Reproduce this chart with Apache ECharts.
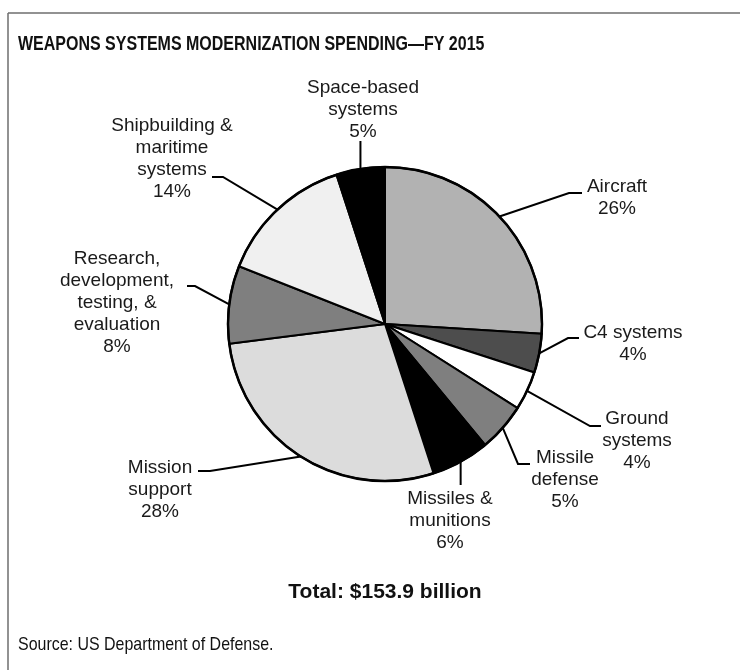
<!DOCTYPE html>
<html>
<head>
<meta charset="utf-8">
<title>Weapons Systems Modernization Spending — FY 2015</title>
<script src="https://cdn.jsdelivr.net/npm/echarts@6/dist/echarts.min.js"></script>
<style>
  html, body { margin: 0; padding: 0; background: #ffffff; }
  #chart { width: 740px; height: 670px; }
</style>
</head>
<body>
<div id="chart"></div>
<script>
// Spending categories, clockwise from 12 o'clock
const categories = [
  'Aircraft',
  'C4 systems',
  'Ground\nsystems',
  'Missile\ndefense',
  'Missiles &\nmunitions',
  'Mission\nsupport',
  'Research,\ndevelopment,\ntesting, &\nevaluation',
  'Shipbuilding &\nmaritime\nsystems',
  'Space-based\nsystems'
];

// Share of total modernization spending, percent
const shares = [26, 4, 4, 5, 6, 28, 8, 14, 5];

// Greyscale fill for each slice
const fills = ['#b2b2b2', '#4d4d4d', '#ffffff', '#7f7f7f', '#000000',
               '#dcdcdc', '#7f7f7f', '#f0f0f0', '#000000'];

const titleText = 'WEAPONS SYSTEMS MODERNIZATION SPENDING\u2014FY 2015';
const totalText = 'Total: $153.9 billion';
const sourceText = 'Source: US Department of Defense.';

const FONT = '"Liberation Sans", Arial, Helvetica, sans-serif';
const CENTER = [385, 324];
const RADIUS = 157;

// Label placement: text block centre, then leader elbow / end points.
// 'h' leaders run out to an elbow then horizontally to the text;
// 'v' leaders run straight up or down from the rim.
const labelPlacement = [
  { x: 617, y: 198, kind: 'h', elbow: [569, 193], end: [582, 193] },
  { x: 633, y: 344, kind: 'h', elbow: [568, 338], end: [579, 338] },
  { x: 637, y: 441, kind: 'h', elbow: [590, 426], end: [601, 426] },
  { x: 565, y: 480, kind: 'h', elbow: [518, 464], end: [530, 464] },
  { x: 450, y: 521, kind: 'v', endY: 485 },
  { x: 160, y: 490, kind: 'h', elbow: [210, 471], end: [198, 471] },
  { x: 117, y: 303, kind: 'h', elbow: [195, 286], end: [187, 286] },
  { x: 172, y: 159, kind: 'h', elbow: [223, 177], end: [212, 177] },
  { x: 363, y: 110, kind: 'v', endY: 141 }
];

// Rim point at the middle angle of slice i (clockwise from top)
function rimPoint(i) {
  const total = shares.reduce((a, b) => a + b, 0);
  let before = 0;
  for (let k = 0; k < i; k++) before += shares[k];
  const mid = (before + shares[i] / 2) / total * Math.PI * 2;
  return [CENTER[0] + RADIUS * Math.sin(mid), CENTER[1] - RADIUS * Math.cos(mid)];
}

const pieData = categories.map((name, i) => ({
  name: name,
  value: shares[i],
  itemStyle: { color: fills[i] }
}));

const chart = echarts.init(document.getElementById('chart'), null, { renderer: 'canvas' });

chart.setOption({
  backgroundColor: '#ffffff',
  animation: false,
  graphic: [
    { type: 'line', shape: { x1: 8, y1: 13, x2: 740, y2: 13 },
      style: { stroke: '#6e6e6e', lineWidth: 1.5 } },
    { type: 'line', shape: { x1: 8, y1: 13, x2: 8, y2: 670 },
      style: { stroke: '#6e6e6e', lineWidth: 1.5 } },
    // condensed bold heading
    { type: 'text', x: 18, y: 44, scaleX: 0.8,
      style: { text: titleText, x: 0, y: 0, font: 'bold 20px ' + FONT,
               fill: '#111111', verticalAlign: 'middle', align: 'left' } },
    { type: 'text', x: 385, y: 592,
      style: { text: totalText, x: 0, y: 0, font: 'bold 21px ' + FONT,
               fill: '#111111', verticalAlign: 'middle', align: 'center' } },
    { type: 'text', x: 18, y: 645, scaleX: 0.84,
      style: { text: sourceText, x: 0, y: 0, font: '19px ' + FONT,
               fill: '#111111', verticalAlign: 'middle', align: 'left' } }
  ],
  series: [
    {
      type: 'pie',
      center: CENTER,
      radius: RADIUS,
      startAngle: 90,
      clockwise: true,
      avoidLabelOverlap: false,
      itemStyle: { borderColor: '#000000', borderWidth: 2 },
      label: {
        show: true,
        position: 'outside',
        formatter: p => p.name + '\n' + p.value + '%',
        fontFamily: FONT,
        fontSize: 19,
        lineHeight: 22,
        color: '#1a1a1a',
        align: 'center'
      },
      labelLine: {
        show: true,
        length: 10,
        length2: 10,
        lineStyle: { color: '#000000', width: 2 }
      },
      labelLayout: function (params) {
        const i = params.dataIndex;
        const p = labelPlacement[i];
        const rim = rimPoint(i);
        const pts = p.kind === 'v'
          ? [rim, [rim[0], p.endY], [rim[0], p.endY]]
          : [rim, p.elbow, p.end];
        return {
          x: p.x,
          y: p.y,
          align: 'center',
          verticalAlign: 'middle',
          labelLinePoints: pts
        };
      },
      emphasis: { disabled: true },
      data: pieData
    },
    {
      // heavier outer rim drawn over the slices
      type: 'pie',
      center: CENTER,
      radius: RADIUS,
      silent: true,
      label: { show: false },
      labelLine: { show: false },
      itemStyle: { color: 'rgba(0,0,0,0)', borderColor: '#000000', borderWidth: 2.5 },
      emphasis: { disabled: true },
      data: [{ value: 1, name: 'rim' }]
    }
  ]
});
</script>
</body>
</html>
